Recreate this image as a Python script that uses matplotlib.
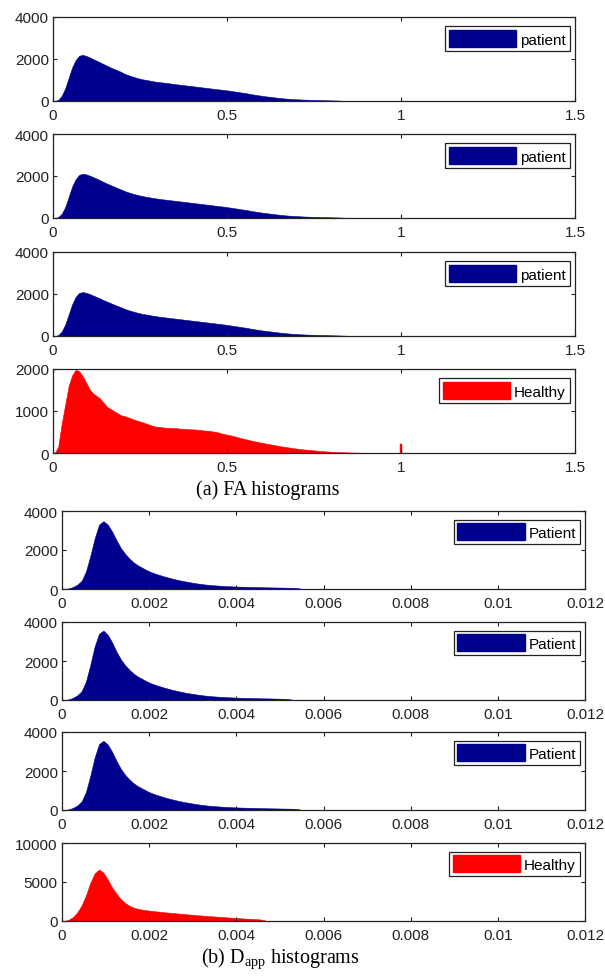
import numpy as np
import matplotlib
matplotlib.use('Agg')
import matplotlib.pyplot as plt
from matplotlib.patches import Patch

plt.rcParams['font.family'] = ['Liberation Sans', 'DejaVu Sans']

# ---- FA histograms (bin width 0.01, first bin starts at 0) ----
fa_bin = 0.01
fa_patient1 = [0, 50, 250, 600, 1100, 1600, 1950, 2150, 2200, 2150,
               2080, 2000, 1920, 1840, 1760, 1680, 1600, 1530, 1460, 1390,
               1300, 1240, 1180, 1130, 1080, 1040, 1010, 980, 950, 920,
               900, 880, 860, 840, 815, 795, 775, 755, 735, 715,
               695, 675, 655, 635, 615, 595, 575, 555, 535, 515,
               495, 470, 445, 420, 395, 370, 340, 310, 285, 260,
               235, 215, 195, 175, 155, 135, 120, 108, 96, 86,
               78, 70, 64, 58, 53, 48, 44, 40, 36, 32,
               28, 24, 18, 8]
fa_patient2 = [0, 40, 200, 520, 1000, 1500, 1850, 2050, 2110, 2080,
               2020, 1950, 1880, 1800, 1720, 1640, 1570, 1500, 1430, 1360,
               1290, 1230, 1180, 1130, 1090, 1050, 1020, 990, 960, 935,
               910, 890, 870, 850, 830, 810, 790, 770, 750, 730,
               710, 690, 670, 650, 630, 610, 590, 570, 550, 530,
               505, 480, 455, 430, 405, 380, 350, 320, 295, 270,
               245, 225, 205, 185, 165, 145, 130, 116, 104, 92,
               84, 76, 68, 62, 56, 51, 47, 43, 39, 35,
               31, 27, 22, 16, 8]
fa_patient3 = [0, 40, 210, 540, 1020, 1510, 1860, 2050, 2090, 2060,
               2000, 1930, 1860, 1790, 1710, 1640, 1570, 1500, 1430, 1370,
               1300, 1240, 1190, 1140, 1100, 1060, 1030, 1000, 970, 945,
               920, 900, 880, 860, 840, 820, 800, 780, 760, 740,
               720, 700, 680, 660, 640, 620, 600, 580, 560, 540,
               515, 490, 465, 440, 415, 390, 360, 330, 305, 280,
               255, 235, 215, 195, 175, 155, 138, 122, 108, 96,
               86, 78, 70, 64, 58, 52, 48, 44, 40, 36,
               32, 28, 24, 18, 10]
fa_healthy = [0, 150, 700, 1150, 1600, 1850, 1980, 1950, 1830, 1680,
              1520, 1420, 1360, 1300, 1200, 1100, 1050, 1000, 950, 900,
              880, 850, 820, 790, 760, 740, 710, 680, 650, 630,
              620, 610, 600, 600, 595, 590, 580, 575, 570, 565,
              560, 555, 545, 535, 530, 520, 505, 490, 465, 445,
              430, 410, 390, 365, 345, 325, 305, 285, 270, 250,
              235, 220, 205, 190, 175, 160, 148, 135, 122, 110,
              100, 90, 82, 74, 66, 58, 50, 44, 38, 32,
              28, 24, 20, 17, 14, 12, 10, 8, 6, 4]
fa_healthy_spike_x = [1.0]
fa_healthy_spike = [220]

# ---- Dapp histograms (bin width 0.0001, first bin starts at 0) ----
d_bin = 0.0001
d_patient1 = [0, 30, 100, 220, 420, 900, 1700, 2600, 3300, 3480,
              3300, 2950, 2500, 2100, 1800, 1550, 1350, 1200, 1080, 960,
              860, 780, 710, 640, 580, 520, 470, 420, 380, 340,
              300, 270, 240, 215, 195, 180, 165, 150, 140, 130,
              122, 116, 110, 104, 98, 92, 88, 84, 80, 76,
              72, 68, 64, 60, 30]
d_patient2 = [0, 30, 110, 240, 450, 950, 1800, 2750, 3400, 3560,
              3350, 2950, 2480, 2080, 1780, 1540, 1340, 1190, 1070, 950,
              850, 770, 700, 630, 570, 510, 460, 410, 370, 330,
              295, 265, 235, 210, 190, 175, 160, 146, 136, 126,
              118, 112, 106, 100, 94, 88, 84, 80, 76, 70,
              64, 58, 30]
d_patient3 = [0, 30, 105, 230, 440, 930, 1760, 2700, 3380, 3550,
              3360, 2980, 2520, 2110, 1800, 1560, 1360, 1210, 1090, 970,
              870, 790, 720, 650, 590, 530, 480, 430, 390, 350,
              310, 280, 250, 225, 205, 188, 172, 158, 146, 136,
              128, 121, 115, 109, 103, 97, 92, 87, 83, 79,
              75, 71, 67, 62, 30]
d_healthy = [0, 150, 500, 1100, 2000, 3300, 4900, 6100, 6600, 6200,
             5300, 4300, 3500, 2800, 2300, 1950, 1700, 1550, 1450, 1380,
             1300, 1240, 1180, 1120, 1070, 1020, 970, 920, 870, 820,
             770, 720, 680, 640, 600, 560, 520, 480, 440, 400,
             360, 330, 300, 270, 240, 200, 80]

fa_xticks = [0, 0.5, 1, 1.5]
fa_xlabels = ['0', '0.5', '1', '1.5']
d_xticks = [0, 0.002, 0.004, 0.006, 0.008, 0.01, 0.012]
d_xlabels = ['0', '0.002', '0.004', '0.006', '0.008', '0.01', '0.012']

BLUE = '#00008f'
RED = '#ff0000'
W, H = 605, 978

fig = plt.figure(figsize=(W / 100, H / 100), dpi=100)


def make_ax(left, top, width, height):
    return fig.add_axes([left / W, 1 - (top + height) / H, width / W, height / H])


def draw_panel(ax, counts, binw, color, label, xlim, xticks, xlabels, ymax, yticks):
    counts = np.asarray(counts, dtype=float)
    centers = np.arange(len(counts)) * binw + binw / 2
    # filled outline through the bin centres, closed down to the axis at the last bin
    xs = np.concatenate([centers, [centers[-1] + binw / 2]])
    ys = np.concatenate([counts, [0]])
    ax.fill_between(xs, ys, 0, color=color, linewidth=0.4)
    ax.set_xlim(*xlim)
    ax.set_ylim(0, ymax)
    ax.set_xticks(xticks)
    ax.set_xticklabels(xlabels)
    ax.set_yticks(yticks)
    ax.set_yticklabels([str(t) for t in yticks])
    ax.tick_params(direction='in', top=True, right=True, length=3, width=0.8,
                   labelsize=11, colors='#222222')
    ax.tick_params(axis='x', pad=5)
    ax.tick_params(axis='y', pad=3)
    for s in ax.spines.values():
        s.set_linewidth(0.9)
        s.set_color('#222222')
    leg = ax.legend(handles=[Patch(facecolor=color, edgecolor=color)], labels=[label],
                    loc='upper right', bbox_to_anchor=(0.99, 0.89), borderaxespad=0,
                    fancybox=False, framealpha=1, edgecolor='#222222',
                    handlelength=4.4, handleheight=1.3, handletextpad=0.25,
                    borderpad=0.25, fontsize=11)
    leg.get_frame().set_linewidth(0.9)


# FA panels
fa_left, fa_width, fa_h = 53, 522, 84
fa_tops = [18, 135, 253, 370]
fa_series = [fa_patient1, fa_patient2, fa_patient3, fa_healthy]
for i, top in enumerate(fa_tops):
    ax = make_ax(fa_left, top, fa_width, fa_h)
    if i < 3:
        draw_panel(ax, fa_series[i], fa_bin, BLUE, 'patient', (0, 1.5),
                   fa_xticks, fa_xlabels, 4000, [0, 2000, 4000])
    else:
        draw_panel(ax, fa_series[i], fa_bin, RED, 'Healthy', (0, 1.5),
                   fa_xticks, fa_xlabels, 2000, [0, 1000, 2000])
        ax.bar(fa_healthy_spike_x, fa_healthy_spike, width=0.004, color=RED, edgecolor=RED,
               linewidth=0.3)

# Dapp panels
d_left, d_width, d_h = 62, 523, 78
d_tops = [512, 623, 733, 844]
d_series = [d_patient1, d_patient2, d_patient3, d_healthy]
for i, top in enumerate(d_tops):
    ax = make_ax(d_left, top, d_width, d_h)
    if i < 3:
        draw_panel(ax, d_series[i], d_bin, BLUE, 'Patient', (0, 0.012),
                   d_xticks, d_xlabels, 4000, [0, 2000, 4000])
    else:
        draw_panel(ax, d_series[i], d_bin, RED, 'Healthy', (0, 0.012),
                   d_xticks, d_xlabels, 10000, [0, 5000, 10000])

fig.text(268 / W, 1 - 490 / H, '(a) FA histograms', ha='center', va='center',
         family=['Liberation Serif', 'DejaVu Serif'], fontsize=14.5)
fig.text(280 / W, 1 - 959 / H, r'(b) D$_\mathregular{app}$ histograms', ha='center',
         va='center', family=['Liberation Serif', 'DejaVu Serif'], fontsize=14.5)

fig.savefig('out.png', dpi=100, facecolor='white')
